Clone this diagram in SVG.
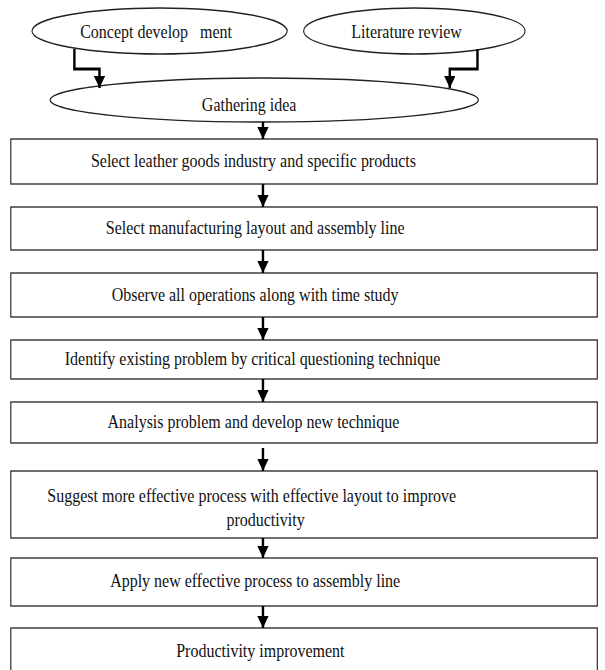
<svg xmlns="http://www.w3.org/2000/svg" width="605" height="670" viewBox="0 0 605 670">
<defs>
<marker id="ah" markerUnits="userSpaceOnUse" markerWidth="13" markerHeight="13" refX="12" refY="6.5" orient="auto">
<path d="M0,0 L12,6.5 L0,13 z" fill="#000"/>
</marker>
<style>
.sh{fill:#fff;stroke:#222;stroke-width:1.3}
.t{font-family:"Liberation Serif","Times New Roman",serif;font-size:18.5px;fill:#111;text-anchor:middle}
.c{fill:none;stroke:#000;stroke-width:2.8}
</style>
</defs>
<rect width="605" height="670" fill="#fff"/>
<g transform="scale(0.865,1)">
<g id="n-concept"><ellipse class="sh" cx="184.5" cy="31" rx="147.5" ry="23"/><text class="t" x="180.5" y="38" xml:space="preserve">Concept develop   ment</text></g>
<g id="n-literature"><ellipse class="sh" cx="479" cy="31" rx="128" ry="23"/><text class="t" x="470" y="38">Literature review</text></g>
<g id="n-gathering"><ellipse class="sh" cx="305.5" cy="100" rx="247.5" ry="22"/><text class="t" x="288" y="111">Gathering idea</text></g>
<g id="n-select-industry"><rect class="sh" x="12.5" y="139" width="678" height="45"/><text class="t" x="293" y="167">Select leather goods industry and specific products</text></g>
<g id="n-select-layout"><rect class="sh" x="12.5" y="207" width="678" height="43"/><text class="t" x="295" y="234">Select manufacturing layout and assembly line</text></g>
<g id="n-observe"><rect class="sh" x="12.5" y="273" width="678" height="44"/><text class="t" x="295" y="301">Observe all operations along with time study</text></g>
<g id="n-identify"><rect class="sh" x="12.5" y="340" width="678" height="39"/><text class="t" x="292" y="365">Identify existing problem by critical questioning technique</text></g>
<g id="n-analysis"><rect class="sh" x="12.5" y="402" width="678" height="41"/><text class="t" x="293" y="428">Analysis problem and develop new technique</text></g>
<g id="n-suggest"><rect class="sh" x="12.5" y="471" width="678" height="67"/><text class="t" x="291" y="502">Suggest more effective process with effective layout to improve</text><text class="t" x="307" y="526">productivity</text></g>
<g id="n-apply"><rect class="sh" x="12.5" y="558" width="678" height="48"/><text class="t" x="295" y="587">Apply new effective process to assembly line</text></g>
<g id="n-productivity"><rect class="sh" x="12.5" y="628" width="678" height="46"/><text class="t" x="301" y="657">Productivity improvement</text></g>
<g id="connectors">
<path class="c" d="M86,49 V69 H115 V88" marker-end="url(#ah)"/>
<path class="c" d="M552,49 V69 H520 V88" marker-end="url(#ah)"/>
<path class="c" d="M304,122 V139" marker-end="url(#ah)"/>
<path class="c" d="M304,184 V207" marker-end="url(#ah)"/>
<path class="c" d="M304,250 V273" marker-end="url(#ah)"/>
<path class="c" d="M304,317 V340" marker-end="url(#ah)"/>
<path class="c" d="M304,379 V402" marker-end="url(#ah)"/>
<path class="c" d="M304,448 V471" marker-end="url(#ah)"/>
<path class="c" d="M304,538 V558" marker-end="url(#ah)"/>
<path class="c" d="M304,606 V628" marker-end="url(#ah)"/>
</g>
</g>
</svg>
